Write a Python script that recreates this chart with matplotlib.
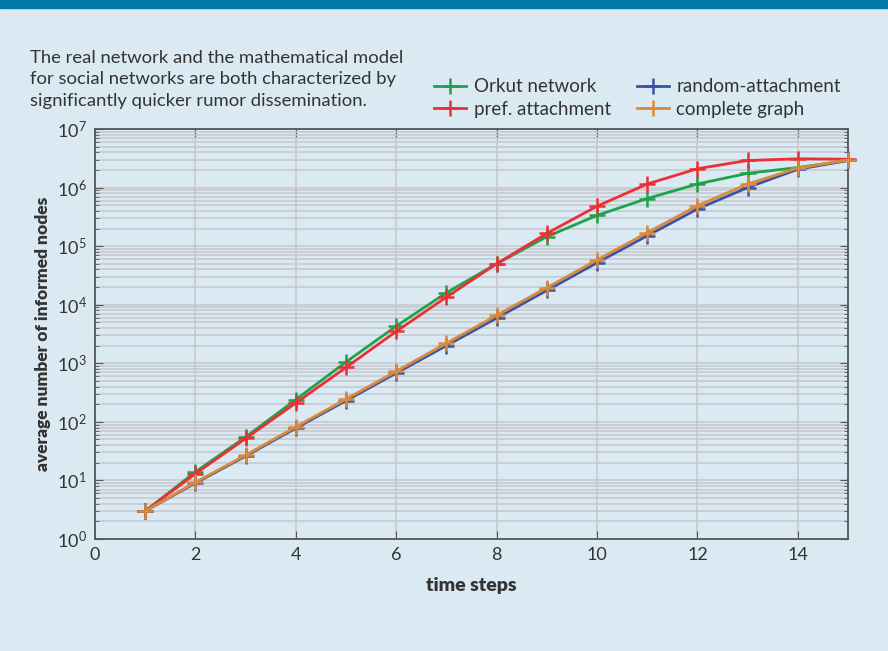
import matplotlib
matplotlib.use("Agg")
import matplotlib.pyplot as plt
from matplotlib.patches import Rectangle
from matplotlib.ticker import LogLocator, NullFormatter

steps = list(range(1, 16))

orkut = [3, 14, 55, 240, 1050, 4300, 16000, 50000, 145000, 335000,
         650000, 1.15e6, 1.75e6, 2.2e6, 2.9e6]
pref_attachment = [3, 13, 52, 210, 850, 3500, 13500, 50000, 165000, 480000,
                   1.15e6, 2.1e6, 2.9e6, 3.1e6, 3.05e6]
random_attachment = [3, 9, 26, 78, 230, 680, 2000, 5900, 17500, 52000,
                     150000, 430000, 1.0e6, 2.05e6, 2.9e6]
complete_graph = [3, 9.3, 27, 82, 245, 730, 2200, 6600, 19500, 58000,
                  170000, 490000, 1.15e6, 2.15e6, 2.95e6]

BG = "#dbeaf2"
TEXT = "#333333"
GRID = "#c4c8cb"

plt.rcParams["font.family"] = ["Lato", "DejaVu Sans"]

fig = plt.figure(figsize=(8.88, 6.51), dpi=100, facecolor=BG)
fig.patches.append(Rectangle((0, 1 - 8 / 651), 1, 8 / 651, transform=fig.transFigure,
                             color="#0079a8", zorder=0))

ax = fig.add_axes([95 / 888, 1 - 539 / 651, 753 / 888, 410 / 651])
ax.set_facecolor(BG)

series = [
    ("Orkut network", orkut, "#1ea24c"),
    ("pref. attachment", pref_attachment, "#ec2f34"),
    ("random-attachment", random_attachment, "#3a54a4"),
    ("complete graph", complete_graph, "#da8a3c"),
]
for label, values, color in series:
    ax.plot(steps, values, color=color, lw=2, marker="+", ms=11, mew=1.8,
            label=label, clip_on=False, zorder=3)

ax.set_yscale("log")
ax.set_ylim(1, 1e7)
ax.set_xlim(0, 15)
ax.set_xticks(range(0, 15, 2))
ax.yaxis.set_major_locator(LogLocator(base=10, numticks=10))
ax.yaxis.set_minor_locator(LogLocator(base=10, subs=range(2, 10), numticks=10))
ax.yaxis.set_minor_formatter(NullFormatter())

ax.grid(True, which="major", axis="both", color=GRID, lw=1.1)
ax.grid(True, which="minor", axis="y", color=GRID, lw=1.1)
ax.set_axisbelow(True)

ax.tick_params(which="both", direction="in", top=True, right=True,
               colors="#555555", labelcolor=TEXT, labelsize=13)
ax.tick_params(which="major", length=6, pad=6)
ax.tick_params(which="minor", length=3)
for s in ax.spines.values():
    s.set_color("#555555")
    s.set_linewidth(1.3)

ax.set_xlabel("time steps", fontsize=14, fontweight="heavy", color=TEXT, labelpad=10)
ax.set_ylabel("average number of informed nodes", fontsize=12.5, fontweight="heavy",
              color=TEXT, labelpad=4)

fig.text(30 / 888, 1 - 50 / 651,
         "The real network and the mathematical model\n"
         "for social networks are both characterized by\n"
         "significantly quicker rumor dissemination.",
         ha="left", va="top", fontsize=13.3, color=TEXT, linespacing=1.42)

leg = ax.legend(loc="lower right", bbox_to_anchor=(1.008, 0.995), ncol=2, frameon=False,
                fontsize=13.5, handlelength=1.7, handletextpad=0.4, columnspacing=1.4,
                labelspacing=0.3, borderaxespad=0.3)
for t in leg.get_texts():
    t.set_color(TEXT)

fig.savefig("out.png", dpi=100, facecolor=BG)
